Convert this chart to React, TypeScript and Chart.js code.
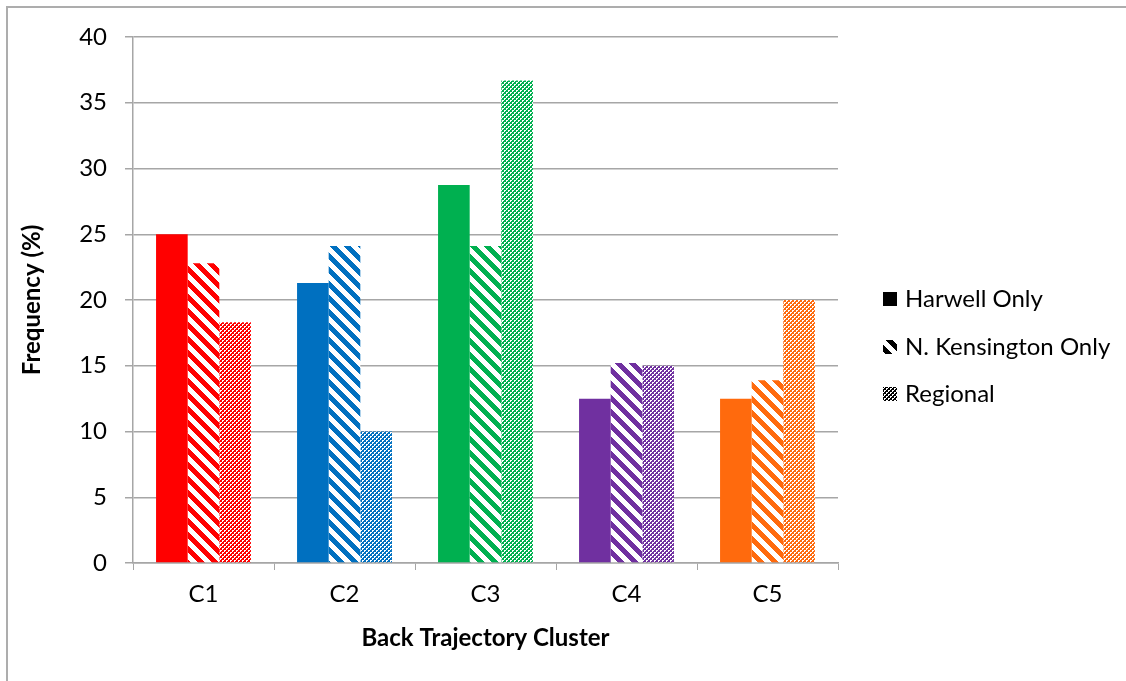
import React, { useEffect, useRef } from "react";
import { Chart, registerables } from "chart.js";

Chart.register(...registerables);

const categories = ["C1", "C2", "C3", "C4", "C5"];
const seriesNames = ["Harwell Only", "N. Kensington Only", "Regional"];
const harwell = [25.0, 21.3, 28.75, 12.5, 12.5];
const kensington = [22.8, 24.1, 24.1, 15.2, 13.9];
const regional = [18.3, 10.0, 36.7, 15.0, 20.0];
const clusterColors = ["#FF0000", "#0070C0", "#00B050", "#7030A0", "#FF6A0D"];
const yTicks = [0, 5, 10, 15, 20, 25, 30, 35, 40];

const FONT = "Lato, Calibri, 'Liberation Sans', sans-serif";

function makeTile(size: number, fn: (x: number, y: number) => boolean, color: string) {
  const c = document.createElement("canvas");
  c.width = size;
  c.height = size;
  const ctx = c.getContext("2d")!;
  ctx.fillStyle = "#FFFFFF";
  ctx.fillRect(0, 0, size, size);
  ctx.fillStyle = color;
  for (let y = 0; y < size; y++) {
    for (let x = 0; x < size; x++) {
      if (fn(x, y)) ctx.fillRect(x, y, 1, 1);
    }
  }
  return c;
}

const stripeFn = (x: number, y: number) => (((x - y) % 14) + 14) % 14 < 7;
const checkFn = (x: number, y: number) => {
  const a = x % 4;
  const b = y % 4;
  const block = (a < 2) === (b < 2);
  const extra = (a === 3 && b === 1) || (a === 1 && b === 3);
  return block || extra;
};

function pattern(fn: (x: number, y: number) => boolean, color: string) {
  const tile = makeTile(fn === stripeFn ? 14 : 8, fn, color);
  const ctx = document.createElement("canvas").getContext("2d")!;
  return ctx.createPattern(tile, "repeat")!;
}

export default function App() {
  const ref = useRef<HTMLCanvasElement>(null);
  useEffect(() => {
    if (!ref.current) return;
    const stripeBg = clusterColors.map((c) => pattern(stripeFn, c));
    const checkBg = clusterColors.map((c) => pattern(checkFn, c));
    const legendFills: (string | CanvasPattern)[] = [
      "#000000",
      pattern(stripeFn, "#000000"),
      pattern(checkFn, "#000000"),
    ];

    const framePlugin = {
      id: "frame",
      beforeDraw(chart: any) {
        const ctx = chart.ctx;
        ctx.save();
        ctx.strokeStyle = "#ADADAD";
        ctx.lineWidth = 2;
        ctx.beginPath();
        ctx.moveTo(7, 700);
        ctx.lineTo(7, 7);
        ctx.lineTo(1130, 7);
        ctx.stroke();
        ctx.restore();
      },
      afterDraw(chart: any) {
        const ctx = chart.ctx;
        ctx.save();
        const ys = [299, 347, 394];
        ctx.font = `24px ${FONT}`;
        ctx.textBaseline = "middle";
        ctx.fillStyle = "#000000";
        seriesNames.forEach((n, i) => {
          ctx.fillStyle = legendFills[i];
          ctx.fillRect(883, ys[i] - 7, 14, 14);
          ctx.fillStyle = "#000000";
          ctx.fillText(n, 905, ys[i]);
        });
        ctx.restore();
      },
    };

    const chart = new Chart(ref.current, {
      type: "bar",
      data: {
        labels: categories,
        datasets: [
          { label: seriesNames[0], data: harwell, backgroundColor: clusterColors },
          { label: seriesNames[1], data: kensington, backgroundColor: stripeBg },
          { label: seriesNames[2], data: regional, backgroundColor: checkBg },
        ],
      },
      options: {
        responsive: false,
        animation: false,
        devicePixelRatio: 1,
        layout: { padding: { top: 37, right: 288, left: 0, bottom: 0 } },
        datasets: { bar: { categoryPercentage: 0.673, barPercentage: 1, borderWidth: 0 } },
        plugins: {
          legend: { display: false },
          tooltip: { enabled: false },
        },
        scales: {
          x: {
            afterFit: (s: any) => {
              s.height = 118;
            },
            grid: {
              display: true,
              drawOnChartArea: false,
              drawTicks: true,
              tickLength: 7,
              color: "#A6A6A6",
              offset: true,
            },
            border: { color: "#A6A6A6", width: 1.5 },
            ticks: { font: { family: FONT, size: 24 }, color: "#000000", padding: 10 },
            title: {
              display: true,
              text: "Back Trajectory Cluster",
              font: { family: FONT, size: 24, weight: "bold" },
              color: "#000000",
              padding: { top: 6, bottom: 28 },
            },
          },
          y: {
            min: 0,
            max: 40,
            afterFit: (s: any) => {
              s.width = 133;
            },
            afterBuildTicks: (s: any) => {
              s.ticks = yTicks.map((v) => ({ value: v }));
            },
            grid: { color: "#A6A6A6", lineWidth: 1.5, tickLength: 8 },
            border: { color: "#A6A6A6", width: 1.5 },
            ticks: { font: { family: FONT, size: 24 }, color: "#000000", padding: 18 },
            title: {
              display: true,
              text: "Frequency (%)",
              font: { family: FONT, size: 24, weight: "bold" },
              color: "#000000",
              padding: { top: 18, bottom: 0 },
            },
          },
        },
      },
      plugins: [framePlugin],
    });
    return () => chart.destroy();
  }, []);
  return (
    <div style={{ position: "fixed", left: 0, top: 0, width: 1126, height: 681, background: "#fff" }}>
      <canvas ref={ref} width={1126} height={681} style={{ display: "block" }} />
    </div>
  );
}
